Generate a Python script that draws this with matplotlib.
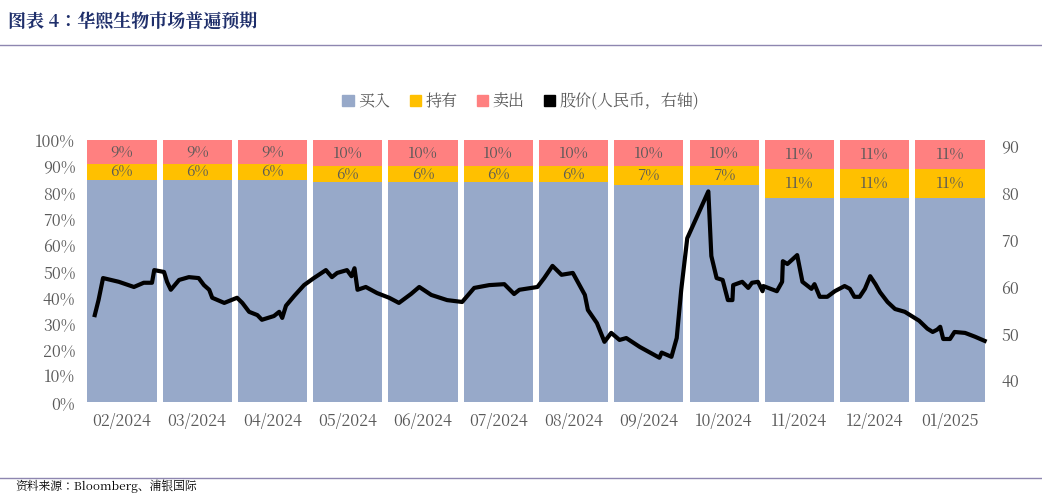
import matplotlib.pyplot as plt
from matplotlib import font_manager
from matplotlib.lines import Line2D
from matplotlib.patches import Patch

# pick a CJK font by file name, the family name lookup is not reliable
cjk = [f for f in font_manager.findSystemFonts() if "CJK" in f or "cjk" in f.lower()]
fams = []
for f in cjk:
    try:
        font_manager.fontManager.addfont(f)
        fams.append(font_manager.FontProperties(fname=f).get_name())
    except Exception:
        pass
pref = [n for n in fams if "SC" in n] + fams
plt.rcParams["font.family"] = ["Noto Sans CJK SC"] + pref[:1] + ["DejaVu Sans"]

months = ["02/2024", "03/2024", "04/2024", "05/2024", "06/2024", "07/2024",
          "08/2024", "09/2024", "10/2024", "11/2024", "12/2024", "01/2025"]
hold = [6, 6, 6, 6, 6, 6, 6, 7, 7, 11, 11, 11]
sell = [9, 9, 9, 10, 10, 10, 10, 10, 10, 11, 11, 11]
buy = [100 - h - s for h, s in zip(hold, sell)]

# price line: position in month units (bar centres at 0..11), price
price_pos = [-0.36, -0.31, -0.25, -0.04, 0.16, 0.29, 0.40, 0.43, 0.56, 0.60, 0.65, 0.76,
             0.89, 1.02, 1.09, 1.16, 1.20, 1.36, 1.53, 1.60, 1.69, 1.80, 1.86, 2.02,
             2.09, 2.13, 2.18, 2.29, 2.42, 2.55, 2.71, 2.79, 2.86, 2.99, 3.05, 3.09,
             3.13, 3.24, 3.39, 3.55, 3.68, 3.84, 3.95, 4.11, 4.32, 4.52, 4.68, 4.88,
             5.08, 5.21, 5.28, 5.52, 5.61, 5.72, 5.84, 5.99, 6.15, 6.19, 6.31, 6.41,
             6.50, 6.61, 6.70, 6.88, 7.14, 7.17, 7.30, 7.37, 7.43, 7.51, 7.79, 7.83,
             7.90, 7.98, 8.05, 8.11, 8.12, 8.24, 8.32, 8.37, 8.45, 8.51, 8.52, 8.70,
             8.77, 8.78, 8.84, 8.97, 9.04, 9.16, 9.20, 9.27, 9.37, 9.47, 9.60, 9.67,
             9.73, 9.80, 9.87, 9.94, 10.01, 10.07, 10.17, 10.27, 10.40, 10.49, 10.59,
             10.70, 10.77, 10.83, 10.87, 10.91, 11.00, 11.06, 11.20, 11.33, 11.46]
price = [54.0, 57.2, 61.9, 61.1, 60.0, 60.9, 60.9, 63.6, 63.2, 61.1, 59.4, 61.5,
         62.1, 61.9, 60.4, 59.4, 57.7, 56.6, 57.7, 56.6, 54.7, 54.0, 53.0, 53.8,
         54.7, 53.4, 56.0, 58.1, 60.4, 61.9, 63.6, 62.1, 63.0, 63.6, 62.3, 64.0,
         59.4, 60.0, 58.7, 57.7, 56.6, 58.5, 60.0, 58.3, 57.2, 56.8, 59.8, 60.4,
         60.6, 58.5, 59.4, 60.0, 61.9, 64.5, 62.6, 63.0, 58.3, 55.1, 52.3, 48.3,
         50.2, 48.7, 49.1, 47.2, 44.9, 46.0, 45.1, 49.1, 59.4, 70.4, 80.4, 66.6,
         61.9, 61.5, 57.2, 57.2, 60.4, 61.1, 59.8, 60.9, 61.1, 59.1, 60.2, 59.1,
         61.1, 65.5, 64.9, 66.8, 61.1, 59.6, 60.6, 57.9, 57.9, 59.1, 60.2, 59.6,
         57.9, 57.9, 59.6, 62.3, 60.6, 58.9, 56.8, 55.3, 54.7, 53.8, 52.8,
         51.1, 50.4, 50.9, 51.5, 48.9, 48.9, 50.4, 50.2, 49.4, 48.5]

c_buy, c_hold, c_sell = "#97A9C9", "#FFC000", "#FF8080"
txt = "#595959"

fig = plt.figure(figsize=(10.42, 5.01), dpi=100)
ax = fig.add_axes([0.083, 0.198, 0.867, 0.522])
x = list(range(len(months)))
ax.bar(x, buy, 0.92, color=c_buy)
ax.bar(x, hold, 0.92, bottom=buy, color=c_hold)
ax.bar(x, sell, 0.92, bottom=[b + h for b, h in zip(buy, hold)], color=c_sell)
for i in x:
    ax.text(i, buy[i] + hold[i] / 2, f"{hold[i]}%", ha="center", va="center", fontsize=11, color=txt)
    ax.text(i, 100 - sell[i] / 2, f"{sell[i]}%", ha="center", va="center", fontsize=11, color=txt)
ax.set_xlim(-0.47, 11.53)
ax.set_ylim(0, 100)
ax.set_yticks(range(0, 101, 10))
ax.set_yticklabels([f"{v}%" for v in range(0, 101, 10)])
ax.set_xticks(x)
ax.set_xticklabels(months)
for s in ax.spines.values():
    s.set_visible(False)
ax.tick_params(length=0, labelsize=11.5, colors=txt, pad=8)

ax2 = ax.twinx()
ax2.plot(price_pos, price, color="black", lw=3)
ax2.set_ylim(35.5, 91.3)
ax2.set_yticks(range(40, 91, 10))
for s in ax2.spines.values():
    s.set_visible(False)
ax2.tick_params(length=0, labelsize=11.5, colors=txt, pad=8)

handles = [Patch(color=c_buy), Patch(color=c_hold), Patch(color=c_sell), Patch(color="black")]
fig.legend(handles, ["买入", "持有", "卖出", "股价(人民币，右轴)"], loc="center",
           bbox_to_anchor=(0.5, 0.798), ncol=4, frameon=False, fontsize=11.5,
           handlelength=0.7, handleheight=0.7, handletextpad=0.3, columnspacing=1.2,
           labelcolor=txt)

fig.text(0.008, 0.975, "图表 4：华熙生物市场普遍预期", fontsize=13, fontweight="bold",
         color="#1F2F6B", va="top")
fig.add_artist(Line2D([0.0, 1.0], [0.91, 0.91], color="#8E86B0", lw=1))
fig.add_artist(Line2D([0.0, 1.0], [0.046, 0.046], color="#8E86B0", lw=1))
fig.text(0.015, 0.015, "资料来源：Bloomberg、浦银国际", fontsize=8.5, color="black", va="bottom")

fig.savefig("out.png", dpi=100)
